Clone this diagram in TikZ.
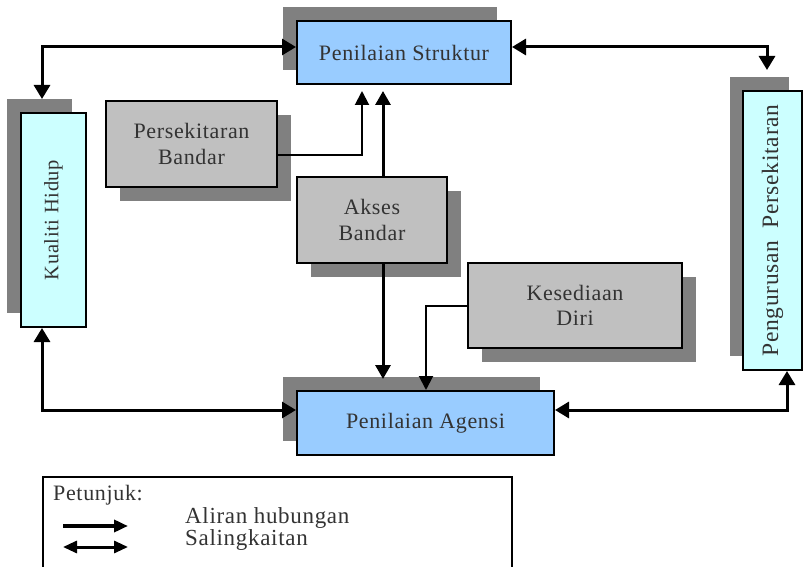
\documentclass[tikz,border=0pt]{standalone}
\usepackage{fontspec}
\usepackage{graphicx}
\setmainfont{Liberation Serif}[LetterSpace=3]
\usetikzlibrary{arrows.meta,shadows}
\definecolor{blueA}{HTML}{99CCFF}
\definecolor{cyanA}{HTML}{CCFFFF}
\definecolor{greyA}{HTML}{C0C0C0}
\definecolor{shadA}{HTML}{808080}
\definecolor{txtA}{HTML}{333333}
\tikzset{
  boxA/.style={draw=black, line width=2pt, rectangle, inner sep=0pt, align=center,
    text=txtA, font=\fontsize{22}{25.5}\selectfont},
  shUL/.style={drop shadow={shadow xshift=-14pt, shadow yshift=14pt, fill=shadA, opacity=1}},
  shDR/.style={drop shadow={shadow xshift=14pt, shadow yshift=-14pt, fill=shadA, opacity=1}},
  arrA/.style={line width=3pt, -{Triangle[length=14pt,width=15pt]}},
  arrB/.style={line width=2pt, -{Triangle[length=14pt,width=14pt]}},
  biA/.style={line width=3pt, {Triangle[length=14pt,width=16pt]}-{Triangle[length=14pt,width=16pt]}},
  legtxt/.style={anchor=base west, inner sep=0pt, text=txtA, font=\fontsize{23}{24}\selectfont},
}
\begin{document}
\begin{tikzpicture}[x=1pt,y=-1pt]
\useasboundingbox (0,0) rectangle (804,567);
\clip (0,0) rectangle (804,567);
% boxes
\node[boxA, fill=blueA, shUL, minimum width=214pt, minimum height=63pt] (Struktur) at (404,52.5) {Penilaian Struktur};
\node[boxA, fill=cyanA, shUL, minimum width=65pt, minimum height=214pt, font=\fontsize{20.5}{25}\selectfont] (Kualiti) at (53.5,220) {\rotatebox{90}{Kualiti Hidup}};
\node[boxA, fill=greyA, shDR, minimum width=171pt, minimum height=86pt] (Persekitaran) at (191.5,144) {Persekitaran\\Bandar};
\node[boxA, fill=greyA, shDR, minimum width=150pt, minimum height=86pt] (Akses) at (372,220) {Akses\\Bandar};
\node[boxA, fill=greyA, shDR, minimum width=214pt, minimum height=85pt] (Kesediaan) at (575,305.5) {Kesediaan\\Diri};
\node[boxA, fill=blueA, shUL, minimum width=257pt, minimum height=64pt] (Agensi) at (425.5,423) {Penilaian Agensi};
\node[boxA, fill=cyanA, drop shadow={shadow xshift=-13pt, shadow yshift=14pt, fill=shadA, opacity=1}, minimum width=59pt, minimum height=279pt, font=\fontsize{23.5}{25}\selectfont] (Pengurusan) at (772.5,230.5) {\rotatebox{90}{Pengurusan\hspace{12pt}Persekitaran}};
% connectors
\draw[biA] ([xshift=-11.5pt,yshift=13pt]Kualiti.north) |- ([yshift=5.5pt]Struktur.west);
\draw[biA] ([yshift=5.5pt]Struktur.east) -| ([xshift=-5.5pt,yshift=20pt]Pengurusan.north);
\draw[biA] ([xshift=-11.5pt]Kualiti.south) |- ([yshift=13pt]Agensi.west);
\draw[biA] ([yshift=13pt]Agensi.east) -| ([xshift=14.5pt]Pengurusan.south);
\draw[arrB] ([yshift=-11pt]Persekitaran.east) -| ([xshift=-42pt,yshift=-6pt]Struktur.south);
\draw[arrA] ([xshift=11pt]Akses.north) -- ([xshift=-21pt,yshift=-6pt]Struktur.south);
\draw[arrA] ([xshift=11pt]Akses.south) -- ([xshift=-42.5pt,yshift=11pt]Agensi.north);
\draw[arrB] (Kesediaan.west) -| ([xshift=0.5pt]Agensi.north);
% legend
\node[draw=black, line width=1.5pt, minimum width=469pt, minimum height=140pt, inner sep=0pt, anchor=north west] (Legend) at (42,476) {};
\node[legtxt, font=\fontsize{22}{24}\selectfont] (Petunjuk) at (53,500) {Petunjuk:};
\node[legtxt] (Aliran) at (185,523) {Aliran hubungan};
\node[legtxt] (Saling) at (185,545) {Salingkaitan};
\coordinate (L1a) at (63,526);
\coordinate (L1b) at (128,526);
\coordinate (L2a) at (63,547);
\coordinate (L2b) at (128,547);
\draw[line width=4pt, -{Triangle[length=14pt,width=12pt]}] (L1a) -- (L1b);
\draw[line width=3pt, {Triangle[length=14pt,width=12pt]}-{Triangle[length=14pt,width=12pt]}] (L2a) -- (L2b);
\end{tikzpicture}
\end{document}
